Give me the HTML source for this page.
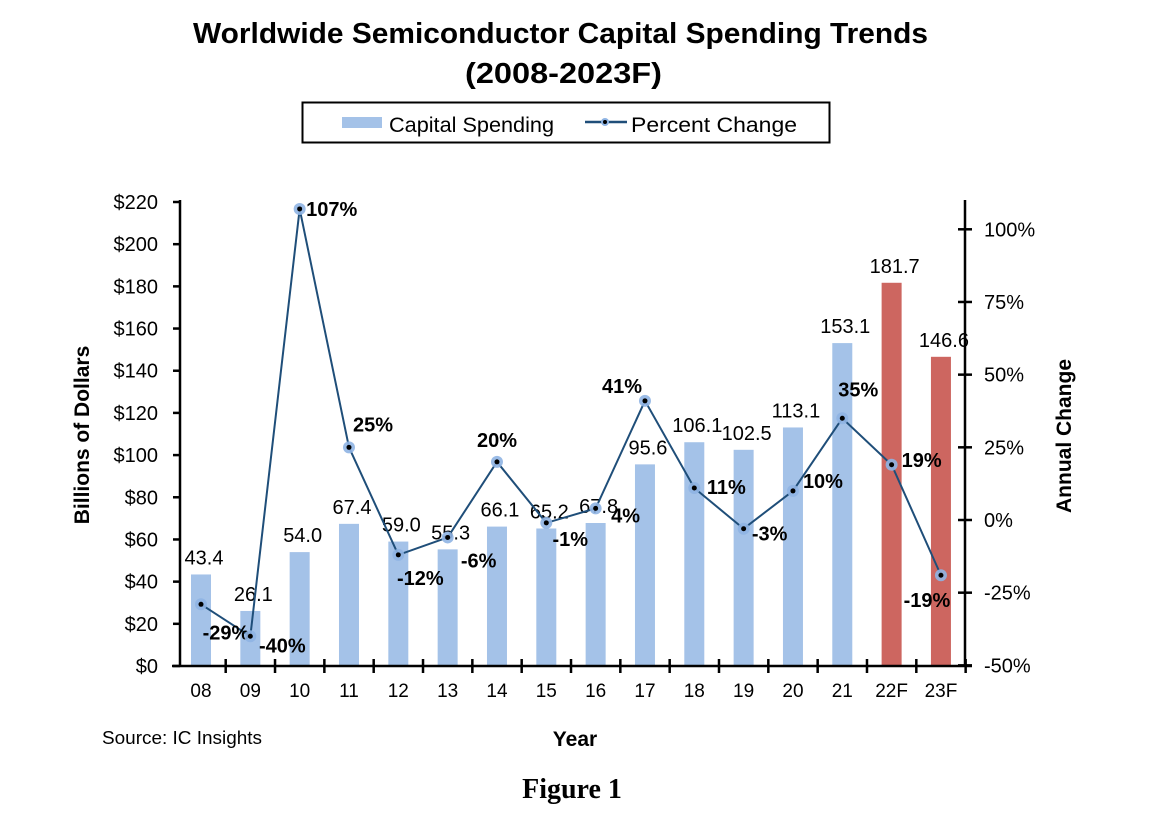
<!DOCTYPE html>
<html><head><meta charset="utf-8"><style>
body{margin:0;background:#fff;}
svg{display:block;font-family:"Liberation Sans",Arial,sans-serif;}
</style></head><body>
<svg width="1158" height="815" viewBox="0 0 1158 815">
<text x="193" y="43" textLength="735" lengthAdjust="spacingAndGlyphs" font-size="29" font-weight="bold">Worldwide Semiconductor Capital Spending Trends</text>
<text x="465" y="83" textLength="197" lengthAdjust="spacingAndGlyphs" font-size="29" font-weight="bold">(2008-2023F)</text>
<g>
<rect x="302.5" y="102.5" width="527" height="40" fill="#fff" stroke="#000" stroke-width="2"/>
<g>
<rect x="342" y="117" width="40" height="11" fill="#a4c2e8"/>
<text x="389" y="132" font-size="21" textLength="165" lengthAdjust="spacingAndGlyphs">Capital Spending</text></g>
<g>
<line x1="585" y1="122" x2="627" y2="122" stroke="#1f4e79" stroke-width="2.5"/>
<circle cx="605" cy="122" r="4" fill="#8fb4e3"/><circle cx="605" cy="122" r="2" fill="#000"/>
<text x="631" y="132" font-size="21" textLength="166" lengthAdjust="spacingAndGlyphs">Percent Change</text></g>
</g>
<g id="plot"></g>
<text transform="translate(89,435) rotate(-90)" text-anchor="middle" font-size="21" font-weight="bold">Billions of Dollars</text>
<text transform="translate(1071,436) rotate(-90)" text-anchor="middle" font-size="21" font-weight="bold">Annual Change</text>
<text x="575" y="746" text-anchor="middle" font-size="21" font-weight="bold">Year</text>
<text x="102" y="744" font-size="18" textLength="160" lengthAdjust="spacingAndGlyphs">Source: IC Insights</text>
<text x="572" y="798" text-anchor="middle" font-size="28" font-weight="bold" font-family="'Liberation Serif',serif">Figure 1</text>
</svg>
<script>
const categories=["08","09","10","11","12","13","14","15","16","17","18","19","20","21","22F","23F"];
const spending=[43.4,26.1,54.0,67.4,59.0,55.3,66.1,65.2,67.8,95.6,106.1,102.5,113.1,153.1,181.7,146.6];
const pctChange=[-29,-40,107,25,-12,-6,20,-1,4,41,11,-3,10,35,19,-19];
const forecast=[false,false,false,false,false,false,false,false,false,false,false,false,false,false,true,true];
const leftTicks=[0,20,40,60,80,100,120,140,160,180,200,220];
const rightTicks=[-50,-25,0,25,50,75,100];
// label offsets [dx,dy] for percent labels (styling only)
const pOff=[[25,35],[32,16],[32,7],[24,-16],[22,30],[31,30],[0,-15],[24,23],[30,14],[-23,-8],[32,6],[26,12],[30,-3],[16,-22],[30,2],[-14,32]];
const NS="http://www.w3.org/2000/svg";
const g=document.getElementById('plot');
const xC=i=>201+i*49.33;
const yL=v=>666-v*(464/220);
const yR=p=>520-p*(145.35/50);
function el(t,a,parent){const e=document.createElementNS(NS,t);for(const k in a)e.setAttribute(k,a[k]);(parent||g).appendChild(e);return e;}
spending.forEach((v,i)=>{
 const r=el('rect',{x:xC(i)-10,y:yL(v),width:20,height:yL(0)-yL(v),fill:forecast[i]?'#cd6660':'#a4c2e8'});
 
 
 const t=el('text',{x:xC(i)+3,y:yL(v)-10,'text-anchor':'middle','font-size':20});
 t.textContent=v.toFixed(1);
 
 
});
const ax=el('g',{stroke:'#000','stroke-width':2.5});


el('line',{x1:180,y1:200,x2:180,y2:667},ax);
el('line',{x1:965,y1:200,x2:965,y2:667},ax);
el('line',{x1:172,y1:666,x2:972,y2:666},ax);
leftTicks.forEach(v=>{
 el('line',{x1:173,y1:yL(v),x2:180,y2:yL(v)},ax);
 const t=el('text',{x:158,y:yL(v)+7,'text-anchor':'end','font-size':20});
 t.textContent='$'+v;
 
 
});
rightTicks.forEach(p=>{
 el('line',{x1:958,y1:yR(p),x2:972,y2:yR(p)},ax);
 const t=el('text',{x:984,y:yR(p)+7,'font-size':20});
 t.textContent=p+'%';
 
 
});
categories.forEach((c,i)=>{
 el('line',{x1:xC(i)+24.7,y1:659,x2:xC(i)+24.7,y2:673},ax);
 const t=el('text',{x:xC(i),y:697,'text-anchor':'middle','font-size':19});
 t.textContent=c;
 
 
});
const pl=el('polyline',{points:pctChange.map((p,i)=>xC(i)+','+yR(p)).join(' '),fill:'none',stroke:'#1f4e79','stroke-width':2});


pctChange.forEach((p,i)=>{
 const c=el('circle',{cx:xC(i),cy:yR(p),r:6,fill:'#8fb4e3',opacity:0.9});
 
 
 el('circle',{cx:xC(i),cy:yR(p),r:2.5,fill:'#000'});
 const t=el('text',{x:xC(i)+pOff[i][0],y:yR(p)+pOff[i][1],'text-anchor':'middle','font-size':20,'font-weight':'bold'});
 t.textContent=p+'%';
 
 
});
</script>
</body></html>
